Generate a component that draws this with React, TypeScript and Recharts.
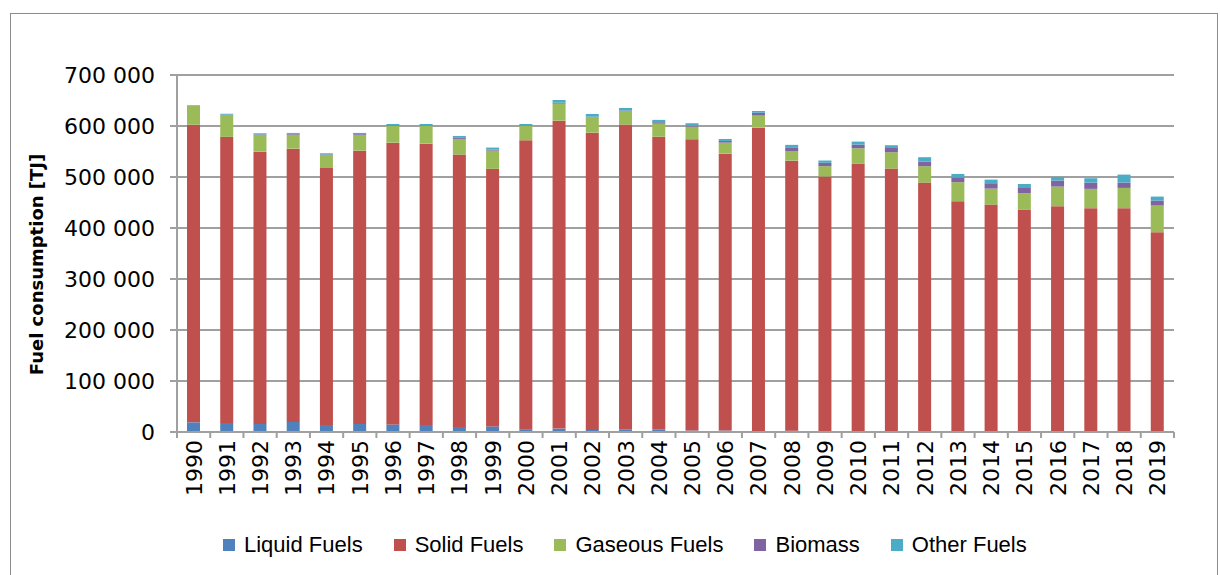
import React from 'react';
import {
  BarChart,
  Bar,
  XAxis,
  YAxis,
  CartesianGrid,
  Legend,
} from 'recharts';

// Years on the category axis
const years: string[] = [
  '1990', '1991', '1992', '1993', '1994', '1995', '1996', '1997', '1998', '1999',
  '2000', '2001', '2002', '2003', '2004', '2005', '2006', '2007', '2008', '2009',
  '2010', '2011', '2012', '2013', '2014', '2015', '2016', '2017', '2018', '2019',
];

// Fuel consumption [TJ]
const liquidFuels: number[] = [
  19000, 17600, 15700, 19600, 13700, 15700, 14900, 13700, 9800, 11000,
  5500, 6700, 4000, 5300, 5000, 2800, 2800, 1500, 2500, 2000,
  2000, 2000, 2000, 1500, 1500, 1500, 1500, 1500, 1500, 1500,
];
const solidFuels: number[] = [
  583500, 561000, 534000, 536000, 504000, 536000, 552500, 551700, 534200, 505000,
  566500, 603800, 583000, 597400, 574000, 571200, 543000, 595300, 529600, 499000,
  523700, 514500, 487000, 451100, 444400, 434600, 441300, 437400, 437400, 390300,
];
const gaseousFuels: number[] = [
  37500, 43100, 32700, 27400, 25500, 30800, 33300, 34600, 30700, 35800,
  28000, 33300, 30000, 26800, 25600, 24800, 21600, 23600, 18900, 20200,
  30700, 32100, 32200, 37200, 31400, 32200, 38400, 37800, 39700, 52200,
];
const biomass: number[] = [
  300, 500, 1000, 1500, 1000, 1500, 1000, 1000, 3000, 2000,
  1000, 2000, 1300, 1000, 2800, 1900, 3300, 5500, 6000, 6600,
  7100, 9800, 9000, 9000, 10500, 10300, 11800, 12300, 10400, 9800,
];
const otherFuels: number[] = [
  800, 1800, 2300, 1900, 2300, 2400, 2300, 3000, 2800, 3900,
  3000, 5200, 5300, 4900, 4600, 4700, 3900, 3500, 6000, 4500,
  5900, 3900, 8600, 7200, 7100, 7900, 7200, 8600, 15700, 7800,
];

const yTicks: number[] = [0, 100000, 200000, 300000, 400000, 500000, 600000, 700000];

// stacking order, bottom to top (also legend order)
const series = [
  { key: 'liquid', name: 'Liquid Fuels', color: '#4F81BD' },
  { key: 'solid', name: 'Solid Fuels', color: '#C0504D' },
  { key: 'gaseous', name: 'Gaseous Fuels', color: '#9BBB59' },
  { key: 'biomass', name: 'Biomass', color: '#8064A2' },
  { key: 'other', name: 'Other Fuels', color: '#4BACC6' },
];

const data = years.map((year, i) => ({
  year,
  liquid: liquidFuels[i],
  solid: solidFuels[i],
  gaseous: gaseousFuels[i],
  biomass: biomass[i],
  other: otherFuels[i],
}));

const CHART_W = 1220;
const CHART_H = 575;
const MARGIN = { top: 75, right: 46, left: 0, bottom: 15 };
const Y_AXIS_W = 177;
const PLOT_W = CHART_W - MARGIN.left - MARGIN.right - Y_AXIS_W;
const GRID = '#a0a0a0';
const TICK_FONT = '"DejaVu Sans", sans-serif';

const fmt = (v: number) => String(v).replace(/\B(?=(\d{3})+(?!\d))/g, ' ');

// year label rotated, plus Excel-style tick marks between categories
const YearTick = (props: any) => {
  const { x, y, payload, index } = props;
  const band = PLOT_W / years.length;
  const axisY = y - 8;
  return (
    <g>
      <line x1={x - band / 2} x2={x - band / 2} y1={axisY} y2={axisY + 6} stroke={GRID} strokeWidth={2} />
      {index === years.length - 1 && (
        <line x1={x + band / 2} x2={x + band / 2} y1={axisY} y2={axisY + 6} stroke={GRID} strokeWidth={2} />
      )}
      <text
        x={x}
        y={y}
        dy="0.36em"
        textAnchor="end"
        transform={`rotate(-90, ${x}, ${y})`}
        fontFamily={TICK_FONT}
        fontSize={22}
        fill="#000"
      >
        {payload.value}
      </text>
    </g>
  );
};

const yTitle = (props: any) => {
  const vb = props.viewBox || { x: 0, y: 0, width: 0, height: 0 };
  const cx = 43;
  const cy = vb.y + vb.height / 2 + 11;
  return (
    <text
      x={cx}
      y={cy}
      textAnchor="middle"
      transform={`rotate(-90, ${cx}, ${cy})`}
      fontFamily={TICK_FONT}
      fontWeight="bold"
      fontSize={18}
      fill="#000"
    >
      Fuel consumption [TJ]
    </text>
  );
};

const renderLegend = () => (
  <div
    style={{
      display: 'flex',
      alignItems: 'center',
      height: 30,
      paddingLeft: 223,
      fontFamily: '"Liberation Sans", Arial, sans-serif',
      fontSize: 22,
      color: '#000',
    }}
  >
    {series.map((s) => (
      <div key={s.key} style={{ display: 'flex', alignItems: 'center', marginRight: 31 }}>
        <span style={{ display: 'inline-block', width: 12, height: 12, background: s.color, marginRight: 9 }} />
        <span>{s.name}</span>
      </div>
    ))}
  </div>
);

const App: React.FC = () => {
  return (
    <div
      style={{
        position: 'absolute',
        left: 0,
        top: 0,
        width: CHART_W,
        height: CHART_H,
        overflow: 'hidden',
        background: '#fff',
      }}
    >
      <div
        style={{
          position: 'absolute',
          left: 10,
          top: 13,
          width: 1206,
          height: 600,
          border: '1px solid #8c8c8c',
        }}
      />
      <div style={{ position: 'absolute', left: 0, top: 0 }}>
        <BarChart width={CHART_W} height={CHART_H} data={data} margin={MARGIN} barSize={13}>
          <CartesianGrid vertical={false} stroke={GRID} strokeWidth={2} />
          <XAxis
            dataKey="year"
            interval={0}
            height={98}
            tickSize={0}
            tickMargin={8}
            tickLine={false}
            axisLine={{ stroke: GRID, strokeWidth: 2 }}
            tick={<YearTick />}
          />
          <YAxis
            width={Y_AXIS_W}
            domain={[0, 700000]}
            ticks={yTicks}
            interval={0}
            tickFormatter={fmt}
            tickSize={7}
            tickMargin={15}
            tickLine={{ stroke: GRID, strokeWidth: 2 }}
            axisLine={{ stroke: GRID, strokeWidth: 2 }}
            tick={{ fontFamily: TICK_FONT, fontSize: 22, fill: '#000' }}
            label={yTitle}
          />
          <Legend verticalAlign="bottom" content={renderLegend} />
          {series.map((s) => (
            <Bar
              key={s.key}
              dataKey={s.key}
              name={s.name}
              stackId="a"
              fill={s.color}
              isAnimationActive={false}
            />
          ))}
        </BarChart>
      </div>
    </div>
  );
};

export default App;
